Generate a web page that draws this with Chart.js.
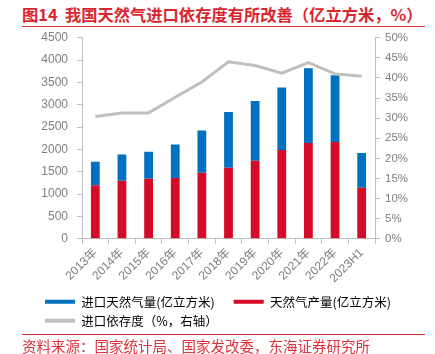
<!DOCTYPE html>
<html><head><meta charset="utf-8">
<script src="https://cdn.jsdelivr.net/npm/chart.js@4"></script>
<style>
html,body{margin:0;padding:0;background:#fff;}
body{width:435px;height:354px;position:relative;overflow:hidden;font-family:"Noto Sans CJK SC","Noto Sans",sans-serif;}
#title{position:absolute;left:22px;top:4px;font-size:16.3px;font-weight:bold;color:#D9262E;white-space:nowrap;line-height:20px;}
#rule1{position:absolute;left:22px;top:26px;width:403px;height:1px;background:#E0303A;}
#wrap{position:absolute;left:0;top:28px;width:435px;height:309px;}
#rule2{position:absolute;left:22px;top:334px;width:403px;height:1px;background:#E0303A;}
#src{position:absolute;left:22px;top:337px;font-size:14.5px;color:#E0303A;white-space:nowrap;line-height:18px;}
</style></head>
<body>
<div id="title">图14&nbsp;&nbsp;我国天然气进口依存度有所改善（亿立方米，%）</div>
<div id="rule1"></div>
<div id="wrap"><canvas id="c"></canvas></div>
<div id="rule2"></div>
<div id="src">资料来源：国家统计局、国家发改委，东海证券研究所</div>
<script>
const categories = ['2013年','2014年','2015年','2016年','2017年','2018年','2019年','2020年','2021年','2022年','2023H1'];
const production = [1200,1298,1343,1358,1478,1590,1748,1988,2145,2168,1140];
const imports = [526,585,607,750,945,1245,1335,1395,1673,1492,780];
const dependency = [30.4,31.3,31.3,35.2,39.0,44.0,43.1,41.2,43.8,41.0,40.4];
const leftTicks = [0,500,1000,1500,2000,2500,3000,3500,4000,4500];
const rightTicks = [0,5,10,15,20,25,30,35,40,45,50];
const seriesNames = ['进口天然气量(亿立方米)','天然气产量(亿立方米)','进口依存度（%，右轴）'];

const BLUE = '#0070C0', RED = '#D50C28', GRAY = '#BFBFBF';
const tickColor = '#7f7f7f', axisColor = '#bfbfbf';
const numFont = {family:'"Liberation Sans","Noto Sans CJK SC",sans-serif', size:12};

new Chart(document.getElementById('c'), {
  data: {
    labels: categories,
    datasets: [
      {type:'bar', label:seriesNames[1], data:production, backgroundColor:RED, yAxisID:'y', stack:'s', barPercentage:0.33, categoryPercentage:1, order:2},
      {type:'bar', label:seriesNames[0], data:imports, backgroundColor:BLUE, yAxisID:'y', stack:'s', barPercentage:0.33, categoryPercentage:1, order:2},
      {type:'line', label:seriesNames[2], data:dependency, borderColor:GRAY, backgroundColor:GRAY, borderWidth:3, pointRadius:0, yAxisID:'y1', tension:0, order:1}
    ]
  },
  options: {
    responsive:true, maintainAspectRatio:false, animation:false,
    layout:{padding:{left:38.5, right:0, top:9.7, bottom:0}},
    plugins:{
      tooltip:{enabled:false},
      legend:{
        position:'bottom', align:'start',
        labels:{
          boxWidth:30, boxHeight:4, padding:6.5,
          color:'#595959',
          font:{family:'"Noto Sans CJK SC",sans-serif', size:12.5},
          generateLabels:()=>[
            {text:seriesNames[0]+'　', fillStyle:BLUE, strokeStyle:BLUE, lineWidth:0, datasetIndex:1},
            {text:seriesNames[1], fillStyle:RED, strokeStyle:RED, lineWidth:0, datasetIndex:0},
            {text:seriesNames[2], fillStyle:GRAY, strokeStyle:GRAY, lineWidth:0, datasetIndex:2}
          ]
        }
      }
    },
    scales:{
      x:{
        stacked:true, offset:true,
        grid:{display:true, drawOnChartArea:false, offset:true, tickLength:5, color:axisColor},
        border:{color:axisColor},
        ticks:{color:tickColor, font:{family:'"Liberation Sans","Noto Sans CJK SC",sans-serif', size:12}, maxRotation:45, minRotation:45, padding:2, autoSkip:false},
        afterFit:(s)=>{s.height=50.25;}
      },
      y:{
        stacked:true, position:'left', min:0, max:4500,
        afterBuildTicks:(s)=>{s.ticks=leftTicks.map(v=>({value:v}));},
        grid:{display:true, drawOnChartArea:false, tickLength:5, color:axisColor},
        border:{color:axisColor},
        ticks:{color:tickColor, font:numFont, padding:9, callback:(v)=>String(v)},
        afterFit:(s)=>{s.width=43.5; s.paddingTop=0; s.paddingBottom=0;}
      },
      y1:{
        position:'right', min:0, max:50,
        afterBuildTicks:(s)=>{s.ticks=rightTicks.map(v=>({value:v}));},
        grid:{display:true, drawOnChartArea:false, tickLength:5, color:axisColor},
        border:{color:axisColor},
        ticks:{color:tickColor, font:{family:numFont.family, size:11.5}, padding:5, callback:(v)=>v+'%'},
        afterFit:(s)=>{s.width=60; s.paddingTop=0; s.paddingBottom=0;}
      }
    }
  }
});
</script>
</body></html>
